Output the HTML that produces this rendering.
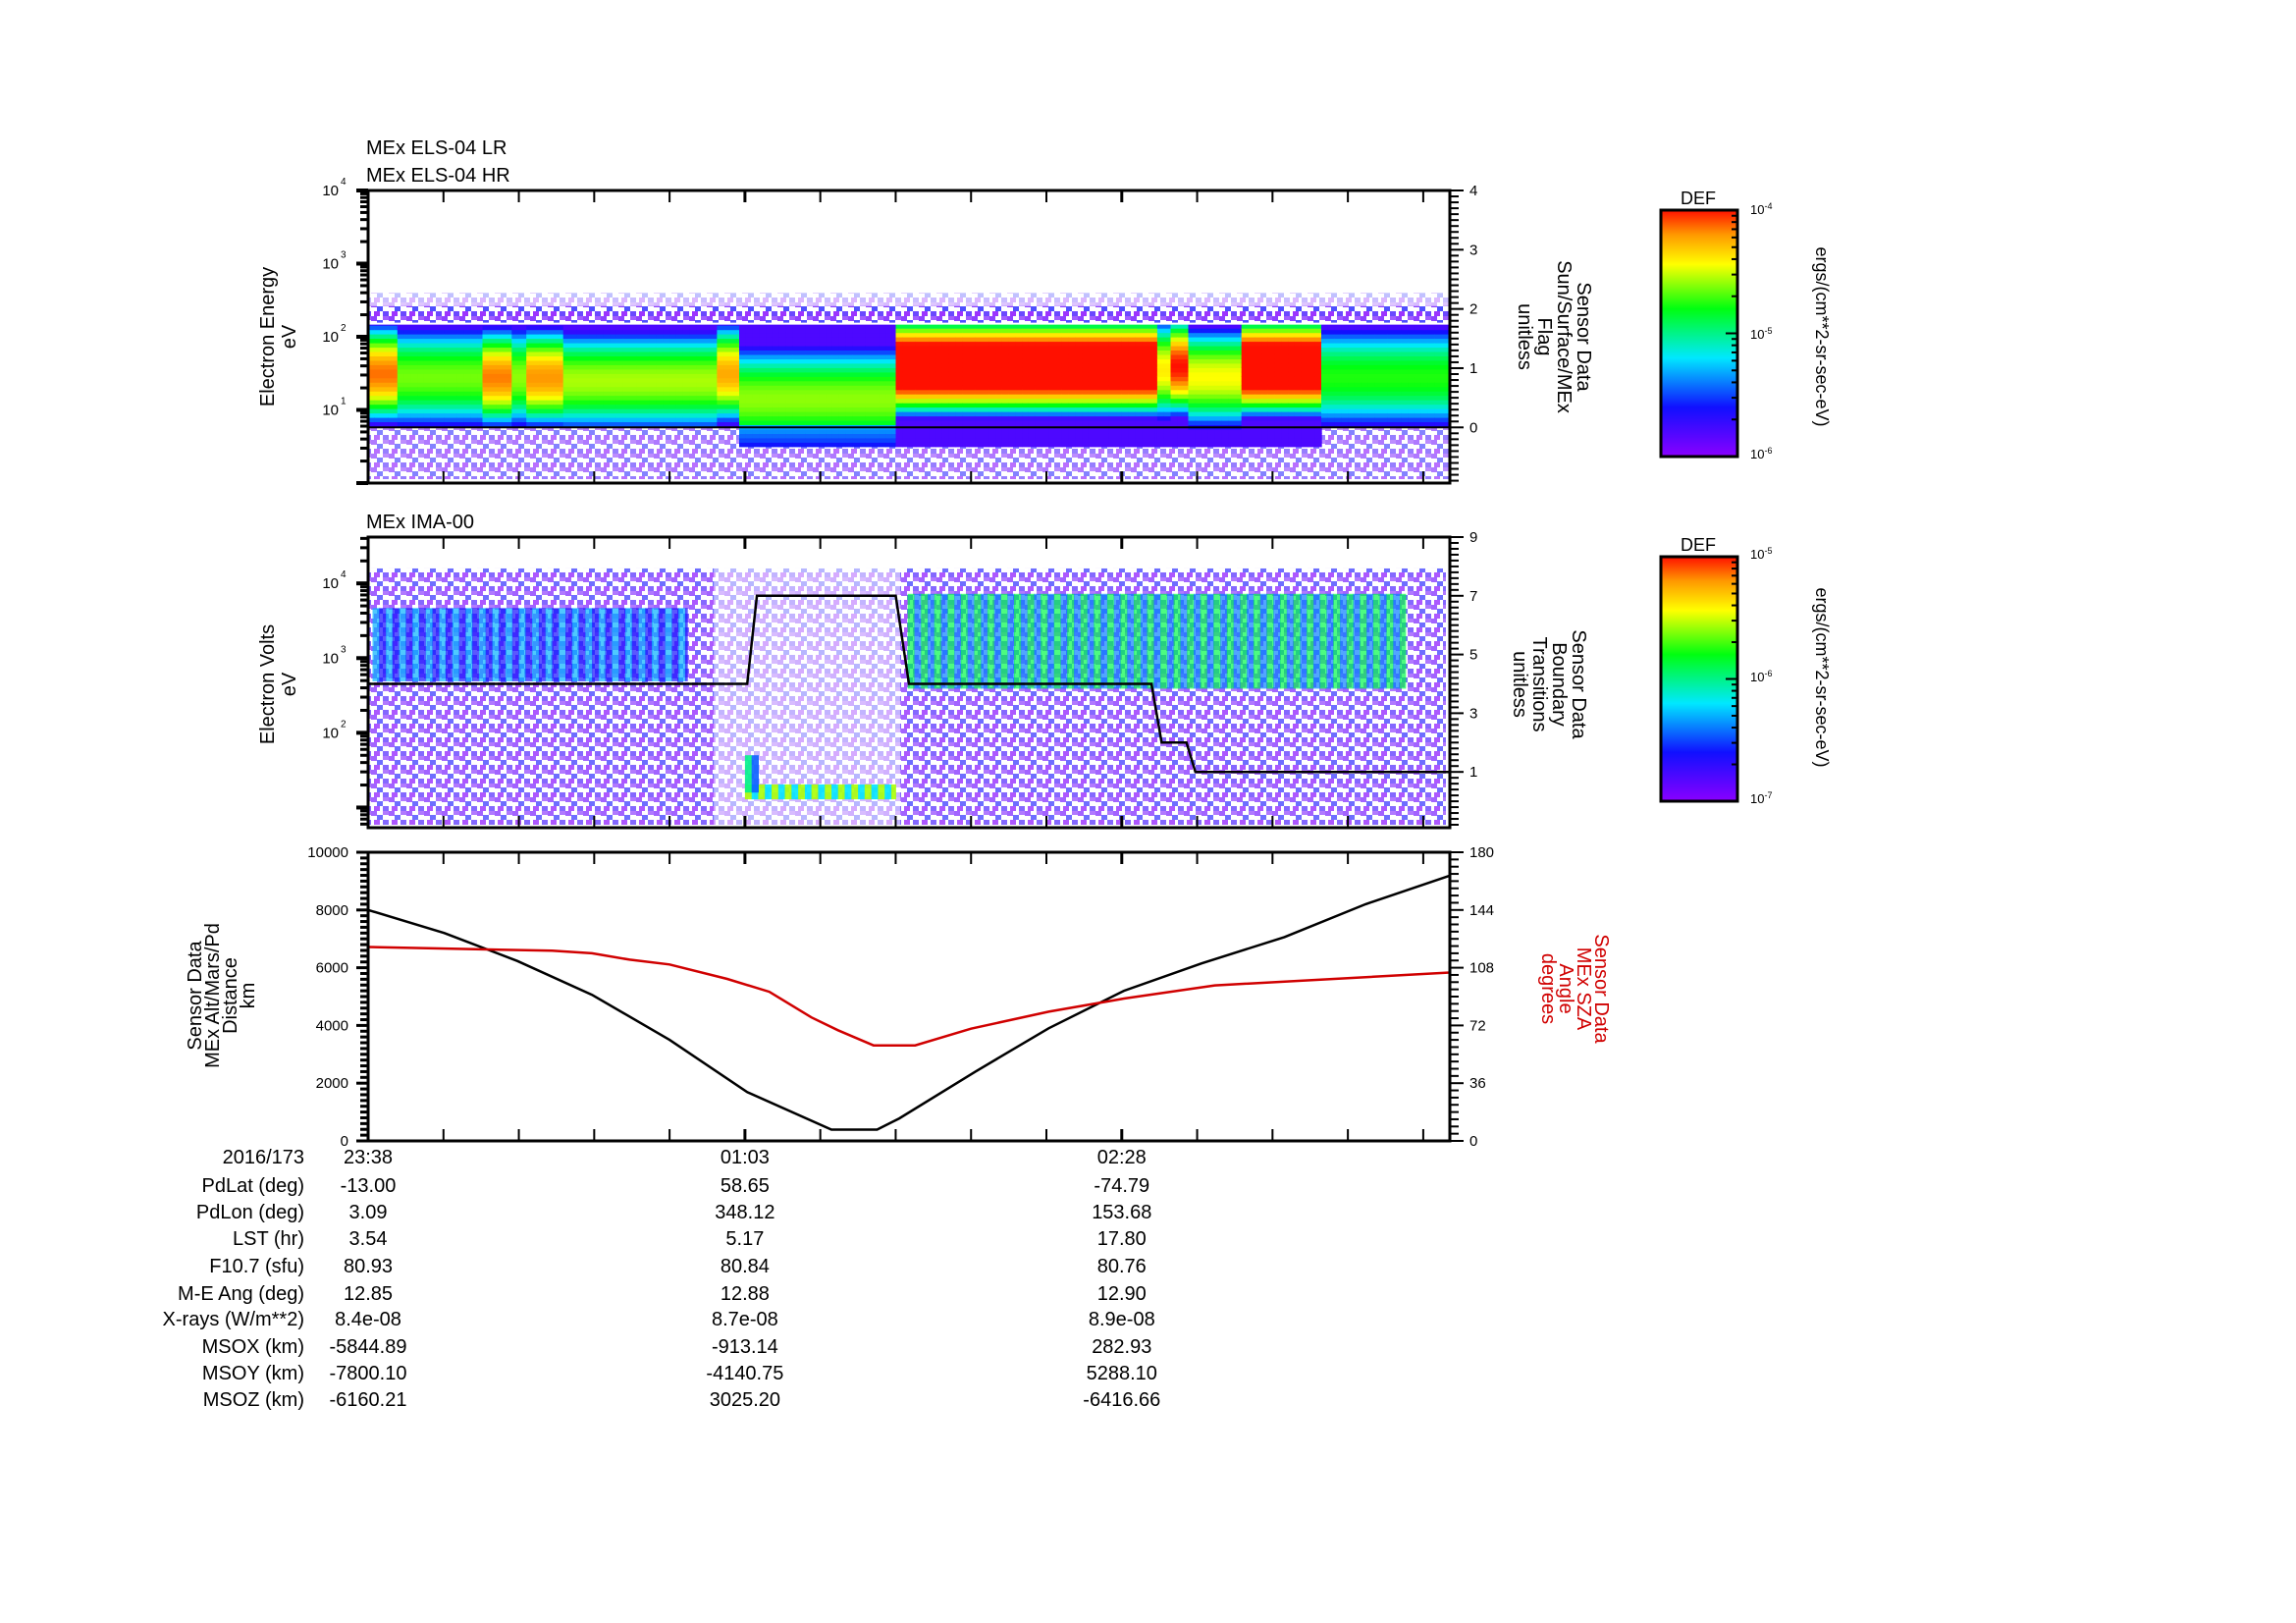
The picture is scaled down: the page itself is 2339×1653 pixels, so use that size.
<!DOCTYPE html>
<html><head><meta charset="utf-8">
<style>
html,body{margin:0;padding:0;background:#fff;}
svg{display:block;font-family:"Liberation Sans Narrow","Liberation Sans",sans-serif;}
</style></head>
<body>
<svg id="fig" xmlns="http://www.w3.org/2000/svg" width="2339" height="1653" viewBox="0 0 2339 1653">
<defs>
<linearGradient id="cmap" x1="0" y1="1" x2="0" y2="0">
<stop offset="0" stop-color="#8a00ff"/><stop offset="0.2" stop-color="#1010ff"/><stop offset="0.4" stop-color="#00e8ff"/><stop offset="0.6" stop-color="#00ff10"/><stop offset="0.78" stop-color="#ffff00"/><stop offset="0.9" stop-color="#ff9900"/><stop offset="1" stop-color="#ff1000"/>
</linearGradient>
<pattern id="speck" width="18" height="14" patternUnits="userSpaceOnUse">
<rect x="0" y="0" width="6" height="5" fill="#7a20ff"/><rect x="6" y="4" width="6" height="5" fill="#3030ff"/><rect x="12" y="0" width="6" height="4" fill="#9040ff"/><rect x="3" y="9" width="6" height="5" fill="#8a10ff"/><rect x="12" y="9" width="6" height="5" fill="#5028ff"/>
</pattern>
</defs>
<g id="layer"></g>
</svg>
<script>
// ---- data ----
const timeTickLabels = ["23:38","01:03","02:28"];
const timeTickMinutes = [0,85,170];
const els1Segments_t0 = [0,6.6,25.8,32.4,35.7,44,78.7,83.7,119,178,181,185,197,215];
const els1Segments_t1 = [6.6,25.8,32.4,35.7,44,78.7,83.7,119,178,181,185,197,215,244];
const els1Peak =        [0.93,0.68,0.92,0.7,0.9,0.72,0.88,0.7,1.2,0.8,1.0,0.78,1.2,0.62];
const els1Center =      [1.5,1.45,1.45,1.45,1.45,1.4,1.5,1.15,1.6,1.55,1.6,1.45,1.6,1.45];
const els1Width =       [0.75,0.75,0.75,0.75,0.75,0.75,0.75,0.8,0.75,0.75,0.75,0.75,0.75,0.75];
const els1Low =         [0.78,0.78,0.78,0.78,0.78,0.78,0.78,0.5,0.5,0.5,0.5,0.5,0.5,0.78];
const els1Flag = [0,0];
const ima_t0 = [1,121.7,85,85];
const ima_t1 = [72,234,119,88];
const imaPeak = [0.35,0.55,0.72,0.5];
const imaLogLo = [2.69,2.59,1.11,1.2];
const imaLogHi = [3.67,3.86,1.31,1.7];
const boundaryT = [0,85.5,87.7,119,122,176.7,179,184.6,186.6,244];
const boundaryV = [4,4,7,7,4,4,2,2,1,1];
const altT = [0,17.2,33.7,50.5,68,85.5,104.5,114.8,119.8,137,153.5,170.5,188,206.7,225,244];
const altKm = [8000,7200,6230,5060,3500,1690,390,390,780,2400,3900,5200,6150,7060,8200,9190];
const szaT = [0,41.5,50.5,59,68,81,90.5,100,106,114,123.4,136,153.5,170.5,191,244];
const szaDeg = [120.9,118.6,117,113,110,101,93,77,69,59.6,59.6,70,80.6,88.8,97,105];
const rowLabels = ["2016/173","PdLat (deg)","PdLon (deg)","LST (hr)","F10.7 (sfu)","M-E Ang (deg)","X-rays (W/m**2)","MSOX (km)","MSOY (km)","MSOZ (km)"];
const col1 = ["23:38","-13.00","3.09","3.54","80.93","12.85","8.4e-08","-5844.89","-7800.10","-6160.21"];
const col2 = ["01:03","58.65","348.12","5.17","80.84","12.88","8.7e-08","-913.14","-4140.75","3025.20"];
const col3 = ["02:28","-74.79","153.68","17.80","80.76","12.90","8.9e-08","282.93","5288.10","-6416.66"];

// ---- helpers ----
const NS="http://www.w3.org/2000/svg";
const L=document.getElementById('layer');
function mk(tag,attrs,parent){const e=document.createElementNS(NS,tag);for(const k in attrs)e.setAttribute(k,attrs[k]);(parent||L).appendChild(e);return e;}
function txt(s,x,y,attrs,parent){const e=mk('text',Object.assign({x:x,y:y},attrs),parent);e.textContent=s;return e;}
const X0=375,X1=1477,TMAX=244;
function xs(t){return X0+t*(X1-X0)/TMAX;}
const P1={top:194,bot:492,lmin:0.0,lmax:4.0,rmin:-0.94,rmax:4};
const P2={top:547,bot:843,lmin:0.73,lmax:4.62,rmin:-0.9,rmax:9};
const P3={top:868,bot:1162,lmin:0,lmax:10000,rmin:0,rmax:180};
function ys(P,v){return P.bot-(v-P.lmin)/(P.lmax-P.lmin)*(P.bot-P.top);}
function yr(P,v){return P.bot-(v-P.rmin)/(P.rmax-P.rmin)*(P.bot-P.top);}
const stops=[[0,[138,0,255]],[0.2,[16,16,255]],[0.4,[0,232,255]],[0.6,[0,255,16]],[0.78,[255,255,0]],[0.9,[255,153,0]],[1,[255,16,0]]];
function cmap(v){v=Math.max(0,Math.min(1,v));for(let i=1;i<stops.length;i++){if(v<=stops[i][0]){const a=stops[i-1],b=stops[i];const f=(v-a[0])/(b[0]-a[0]);const c=a[1].map((q,j)=>Math.round(q+(b[1][j]-q)*f));return `rgb(${c[0]},${c[1]},${c[2]})`;}}return 'rgb(255,16,0)';}

// ---- panel 1 heatmap ----
const g1=mk('g',{});


let s1=mk('rect',{x:X0,y:ys(P1,2.42),width:X1-X0,height:ys(P1,2.18)-ys(P1,2.42),fill:'url(#speck)',opacity:0.85},g1);


let s1b=mk('rect',{x:X0,y:ys(P1,2.6),width:X1-X0,height:ys(P1,2.42)-ys(P1,2.6),fill:'url(#speck)',opacity:0.3},g1);


let s1c=mk('rect',{x:X0,y:ys(P1,0.78),width:X1-X0,height:P1.bot-ys(P1,0.78)-4,fill:'url(#speck)',opacity:0.6},g1);


const dL=0.06, dT=1.5;
for(let s=0;s<els1Peak.length;s++){
  for(let t=els1Segments_t0[s];t<els1Segments_t1[s]-0.01;t+=dT){
    const te=Math.min(t+dT,els1Segments_t1[s]);
    for(let l=els1Low[s];l<2.18-0.001;l+=dL){
      const lc=l+dL/2;const d=(lc-els1Center[s])/els1Width[s];
      let v=els1Peak[s]*(1-d*d);
      if(lc<0.78) v=Math.min(v,0.3)*(0.5+0.5*(lc-els1Low[s])/(0.78-els1Low[s]))+0.05;
      if(v<0.1) v=0.1;
      mk('rect',{x:xs(t).toFixed(1),y:ys(P1,Math.min(l+dL,2.18)).toFixed(1),width:(xs(te)-xs(t)+0.6).toFixed(1),height:(ys(P1,l)-ys(P1,Math.min(l+dL,2.18))+0.6).toFixed(1),fill:cmap(v)},g1);
    }
  }
}
mk('line',{x1:X0,x2:X1,y1:ys(P1,2.18),y2:ys(P1,2.18),stroke:'#fff','stroke-width':2},g1);
const flag=mk('line',{x1:X0,x2:X1,y1:yr(P1,els1Flag[0]),y2:yr(P1,els1Flag[1]),stroke:'#000','stroke-width':2});



// ---- panel 2 heatmap ----
const g2=mk('g',{});


let n1=mk('rect',{x:X0,y:ys(P2,4.2),width:xs(78)-X0,height:P2.bot-ys(P2,4.2)-3,fill:'url(#speck)',opacity:0.7},g2);


let n2=mk('rect',{x:xs(78),y:ys(P2,4.2),width:xs(120)-xs(78),height:P2.bot-ys(P2,4.2)-3,fill:'url(#speck)',opacity:0.35},g2);


let n3=mk('rect',{x:xs(120),y:ys(P2,4.2),width:X1-xs(120)-4,height:P2.bot-ys(P2,4.2)-3,fill:'url(#speck)',opacity:0.7},g2);


for(let s=0;s<imaPeak.length;s++){
  let k=0;
  for(let t=ima_t0[s];t<ima_t1[s]-0.01;t+=1.5,k++){
    const te=Math.min(t+1.5,ima_t1[s]);
    const v=(k%2===0)?imaPeak[s]:imaPeak[s]*0.55;
    mk('rect',{x:xs(t).toFixed(1),y:ys(P2,imaLogHi[s]).toFixed(1),width:(xs(te)-xs(t)+0.5).toFixed(1),height:(ys(P2,imaLogLo[s])-ys(P2,imaLogHi[s])).toFixed(1),fill:cmap(v),opacity:(s<2?0.7:0.9)},g2);
  }
}
let bpts=boundaryT.map((t,i)=>xs(t).toFixed(1)+','+yr(P2,boundaryV[i]).toFixed(1)).join(' ');
const bl=mk('polyline',{points:bpts,fill:'none',stroke:'#000','stroke-width':2.5});



// ---- panel 3 lines ----
let apts=altT.map((t,i)=>xs(t).toFixed(1)+','+ys(P3,altKm[i]).toFixed(1)).join(' ');
const al=mk('polyline',{points:apts,fill:'none',stroke:'#000','stroke-width':2.5});


let zpts=szaT.map((t,i)=>xs(t).toFixed(1)+','+yr(P3,szaDeg[i]).toFixed(1)).join(' ');
const zl=mk('polyline',{points:zpts,fill:'none',stroke:'#d00000','stroke-width':2.5});



// ---- frames & ticks ----
function frame(P,name){
  const r=mk('rect',{x:X0,y:P.top,width:X1-X0,height:P.bot-P.top,fill:'none',stroke:'#000','stroke-width':3});
  
  
  for(let t=0;t<=TMAX;t+=17){
    const w=(t%85===0)?3:2;
    mk('line',{x1:xs(t),x2:xs(t),y1:P.top,y2:P.top+12,stroke:'#000','stroke-width':w});
    mk('line',{x1:xs(t),x2:xs(t),y1:P.bot,y2:P.bot-12,stroke:'#000','stroke-width':w});
  }
}
frame(P1,'els-panel-frame');frame(P2,'ima-panel-frame');frame(P3,'orbit-panel-frame');
function logTicks(P,lbls){
  for(let d=Math.floor(P.lmin);d<=Math.ceil(P.lmax);d++){
    for(let m=1;m<10;m++){
      const l=d+Math.log10(m);if(l<P.lmin||l>P.lmax)continue;
      const yy=ys(P,l);
      mk('line',{x1:X0-(m===1?12:8),x2:X0,y1:yy,y2:yy,stroke:'#000','stroke-width':m===1?4:3});
    }
  }
  lbls.forEach(d=>{const yy=ys(P,d);
    const t=txt('10',X0-30,yy+5,{'font-size':15,'text-anchor':'end'});
    
    
    txt(String(d),X0-28,yy-6,{'font-size':10,'text-anchor':'start'});
  });
}
logTicks(P1,[1,2,3,4]);logTicks(P2,[2,3,4]);
function rightTicks(P,majors,minorStep){
  const start=Math.ceil(P.rmin/minorStep)*minorStep;
  for(let v=start;v<=P.rmax+1e-6;v+=minorStep){
    const yy=yr(P,v);const isM=majors.some(m=>Math.abs(m-v)<1e-6);
    mk('line',{x1:X1,x2:X1+(isM?14:9),y1:yy,y2:yy,stroke:'#000','stroke-width':2});
  }
  majors.forEach(m=>{const t=txt(String(m),X1+20,yr(P,m)+5,{'font-size':15});
    
    });
}
rightTicks(P1,[0,1,2,3,4],0.1);
rightTicks(P2,[1,3,5,7,9],0.2);
rightTicks(P3,[0,36,72,108,144,180],4.5);
for(let v=0;v<=10000;v+=200){const yy=ys(P3,v);mk('line',{x1:X0-(v%2000===0?12:8),x2:X0,y1:yy,y2:yy,stroke:'#000','stroke-width':3});}
[0,2000,4000,6000,8000,10000].forEach(v=>{const t=txt(String(v),X0-20,ys(P3,v)+5,{'font-size':15,'text-anchor':'end'});
  
  });

// ---- ephemeris table ----
const rowY=[1178,1207,1234,1261,1289,1317,1343,1371,1398,1425];
rowLabels.forEach((s,i)=>{
  const a=txt(s,310,rowY[i]+7,{'font-size':20,'text-anchor':'end'});
  
  
  [[col1,xs(timeTickMinutes[0])],[col2,xs(timeTickMinutes[1])],[col3,xs(timeTickMinutes[2])]].forEach(([c,x])=>{
    const b=txt(c[i],x,rowY[i]+7,{'font-size':20,'text-anchor':'middle'});
    
    
  });
});
</script>
<svg style="position:absolute;left:0;top:0" width="2339" height="1653" xmlns="http://www.w3.org/2000/svg">
<g font-family="Liberation Sans, sans-serif" fill="#000">
<text x="373" y="157" font-size="20">MEx ELS-04 LR</text>
<text x="373" y="185" font-size="20">MEx ELS-04 HR</text>
<text x="373" y="538" font-size="20">MEx IMA-00</text>
<text transform="translate(283,343) rotate(-90)" text-anchor="middle" font-size="20"><tspan x="0" dy="-4">Electron Energy</tspan><tspan x="0" dy="22">eV</tspan></text>
<text transform="translate(283,697) rotate(-90)" text-anchor="middle" font-size="20"><tspan x="0" dy="-4">Electron Volts</tspan><tspan x="0" dy="22">eV</tspan></text>
<text transform="translate(231,1014) rotate(-90)" text-anchor="middle" font-size="20"><tspan x="0" dy="-26">Sensor Data</tspan><tspan x="0" dy="18">MEx Alt/Mars/Pd</tspan><tspan x="0" dy="18">Distance</tspan><tspan x="0" dy="18">km</tspan></text>
<text transform="translate(1571,343) rotate(90)" text-anchor="middle" font-size="20"><tspan x="0" dy="-36">Sensor Data</tspan><tspan x="0" dy="20">Sun/Surface/MEx</tspan><tspan x="0" dy="20">Flag</tspan><tspan x="0" dy="20">unitless</tspan></text>
<text transform="translate(1566,697) rotate(90)" text-anchor="middle" font-size="20"><tspan x="0" dy="-36">Sensor Data</tspan><tspan x="0" dy="20">Boundary</tspan><tspan x="0" dy="20">Transitions</tspan><tspan x="0" dy="20">unitless</tspan></text>
<text transform="translate(1589,1007) rotate(90)" text-anchor="middle" font-size="20" fill="#d00000"><tspan x="0" dy="-36">Sensor Data</tspan><tspan x="0" dy="18">MEx SZA</tspan><tspan x="0" dy="18">Angle</tspan><tspan x="0" dy="18">degrees</tspan></text>
<text x="1730" y="208" font-size="18" text-anchor="middle">DEF</text>
<rect x="1692" y="214" width="78" height="251" fill="url(#cmap)" stroke="#000" stroke-width="3"/>
<text x="1783" y="218" font-size="13">10<tspan dy="-5" font-size="9">-4</tspan></text>
<text x="1783" y="345" font-size="13">10<tspan dy="-5" font-size="9">-5</tspan></text>
<text x="1783" y="467" font-size="13">10<tspan dy="-5" font-size="9">-6</tspan></text>
<text transform="translate(1850,343) rotate(90)" text-anchor="middle" font-size="18">ergs/(cm**2-sr-sec-eV)</text>
<text x="1730" y="561" font-size="18" text-anchor="middle">DEF</text>
<rect x="1692" y="567" width="78" height="249" fill="url(#cmap)" stroke="#000" stroke-width="3"/>
<text x="1783" y="569" font-size="13">10<tspan dy="-5" font-size="9">-5</tspan></text>
<text x="1783" y="694" font-size="13">10<tspan dy="-5" font-size="9">-6</tspan></text>
<text x="1783" y="818" font-size="13">10<tspan dy="-5" font-size="9">-7</tspan></text>
<text transform="translate(1850,690) rotate(90)" text-anchor="middle" font-size="18">ergs/(cm**2-sr-sec-eV)</text>
</g>
</svg>
<script>
(function(){const s=document.querySelectorAll('svg')[1];
[[214,465],[567,816]].forEach(([a,b])=>{const h=(b-a)/2;for(let d=0;d<2;d++){for(let m=2;m<=10;m++){const y=b-h*d-h*Math.log10(m);const l=document.createElementNS("http://www.w3.org/2000/svg",'line');l.setAttribute('x1',m===10?1758:1764);l.setAttribute('x2',1770);l.setAttribute('y1',y);l.setAttribute('y2',y);l.setAttribute('stroke','#000');l.setAttribute('stroke-width',2);s.appendChild(l);}}});})();
</script>
</body></html>
